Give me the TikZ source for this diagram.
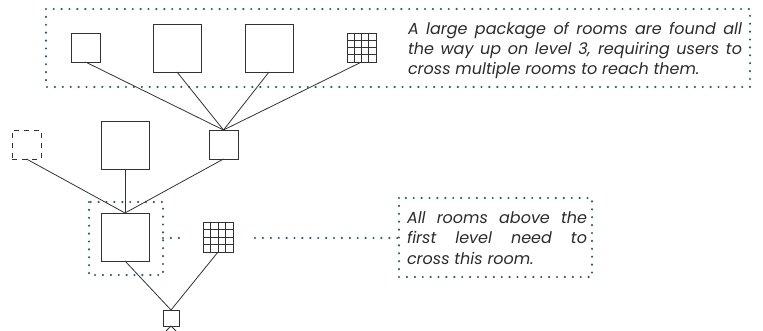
\documentclass[tikz,border=0pt]{standalone}
\usepackage{fontspec}
\setmainfont{Poppins}
\usetikzlibrary{calc}
\definecolor{dotc}{HTML}{345C5E}
\definecolor{txtc}{HTML}{2B2B2B}
\definecolor{linec}{HTML}{333333}
\tikzset{
  room/.style={draw=linec, line width=0.9pt, rectangle, inner sep=0pt, outer sep=0pt, minimum size=#1},
  room/.default=29pt,
  ghost/.style={room, dash pattern=on 5pt off 5pt},
  gridroom/.style={room=#1, path picture={
    \foreach \k in {1,2,3}{
      \draw[linec, line width=0.9pt] ($(path picture bounding box.north west)!\k/4!(path picture bounding box.north east)$) -- ($(path picture bounding box.south west)!\k/4!(path picture bounding box.south east)$);
      \draw[linec, line width=0.9pt] ($(path picture bounding box.north west)!\k/4!(path picture bounding box.south west)$) -- ($(path picture bounding box.north east)!\k/4!(path picture bounding box.south east)$);
    }}},
  link/.style={draw=linec, line width=0.8pt},
  dotline/.style={draw=dotc, line width=2.4pt, line cap=round, dash pattern=on 0pt off 7.9pt},
  note/.style={inner sep=0pt, outer sep=0pt, anchor=base west, text=txtc},
}
\newcommand\notefont{\fontsize{16}{20}\selectfont\itshape\hyphenpenalty=10000 }
\begin{document}
\begin{tikzpicture}[x=1pt,y=-1pt]
\useasboundingbox (0,0) rectangle (763,331);
% dotted frames
\draw[dotline] (46,9) rectangle (750,87);
\draw[dotline] (89,202) rectangle (163,275);
\draw[dotline] (399,198) rectangle (592,277);
\coordinate (d1a) at (163,238);
\coordinate (d1b) at (183,238);
\coordinate (d2a) at (255,238);
\coordinate (d2b) at (399,238);
\draw[dotline] (d1a) -- (d1b);
\draw[dotline] (d2a) -- (d2b);
% level 3
\node[room=29pt] (r3a) at (85.5,47.5) {};
\node[room=48pt] (r3b) at (177,48) {};
\node[room=48pt] (r3c) at (269,48) {};
\node[gridroom=29pt] (g3) at (361.5,47.5) {};
% level 2
\node[room=29pt] (hub) at (223.5,144.5) {};
\node[room=48pt] (r2) at (125,145) {};
\node[ghost, minimum size=29pt] (gh) at (26.5,144.5) {};
% level 1
\node[room=48pt] (r1) at (125,237) {};
\node[gridroom=30pt] (g1) at (218,237) {};
% level 0
\node[room=16pt] (r0) at (171,318) {};
\coordinate (s1) at (166,331);
\coordinate (s2) at (176,331);
% connectors
\foreach \n in {r3a,r3b,r3c,g3} \draw[link] (\n.south) -- (hub.north);
\foreach \n in {gh,r2,hub} \draw[link] (\n.south) -- (r1.north);
\draw[link] (r1.south) -- (r0.north);
\draw[link] (g1.south) -- (r0.north);
\draw[link] (r0.south) -- (s1);
\draw[link] (r0.south) -- (s2);
% notes
\node[note] (n1) at (408,35) {\parbox[t]{334pt}{\notefont A large package of rooms are found all\linebreak the way up on level 3, requiring users to\linebreak cross multiple rooms to reach them.}};
\node[note] (n2) at (407,224) {\parbox[t]{180pt}{\notefont All rooms above the\linebreak first level need to\linebreak cross this room.}};
\end{tikzpicture}
\end{document}
